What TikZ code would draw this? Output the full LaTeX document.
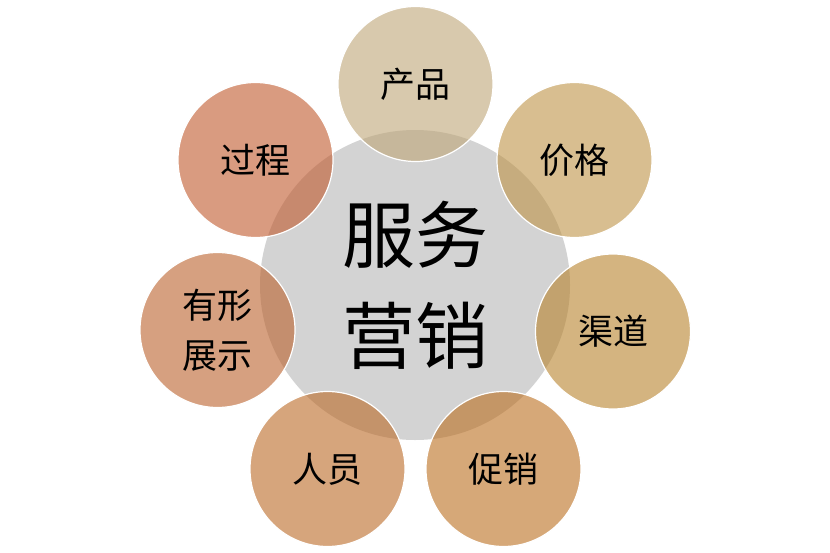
\documentclass[tikz,border=0pt]{standalone}
\usepackage{fontspec}
\setmainfont{Noto Sans CJK SC}
\usepackage{tikz}
\usetikzlibrary{positioning}
\definecolor{hubgray}{RGB}{211,211,211}
\definecolor{cproduct}{RGB}{190,165,118}
\definecolor{cprice}{RGB}{190,147,70}
\definecolor{cplace}{RGB}{183,130,43}
\definecolor{cpromo}{RGB}{187,110,30}
\definecolor{cpeople}{RGB}{187,105,37}
\definecolor{cevidence}{RGB}{187,97,43}
\definecolor{cprocess}{RGB}{192,88,43}

\begin{document}
\begin{tikzpicture}[x=1pt,y=-1pt,
      hub/.style={circle,fill=hubgray,minimum size=310pt,inner sep=0pt,
        align=center,font=\fontsize{73}{101}\selectfont},
      petal/.style={circle,draw=white,line width=1.2pt,fill=#1,fill opacity=0.6,
        text opacity=1,minimum size=155pt,inner sep=0pt,align=center,
        font=\fontsize{35}{50}\selectfont}]
      \useasboundingbox (0,0) rectangle (830,552);
      \node[hub] (hub) at (415,285) {服务\\营销};
      \node[petal=cproduct]  (product)  at (415.5,84)  {产品};
      \node[petal=cprice]    (price)    at (574.5,160) {价格};
      \node[petal=cplace]    (place)    at (613,331.5) {渠道};
      \node[petal=cpromo]    (promo)    at (503.5,469) {促销};
      \node[petal=cpeople]   (people)   at (327.5,469) {人员};
      \node[petal=cevidence] (evidence) at (217.5,330) {有形\\展示};
      \node[petal=cprocess]  (process)  at (255.5,160) {过程};
    \end{tikzpicture}
\end{document}
